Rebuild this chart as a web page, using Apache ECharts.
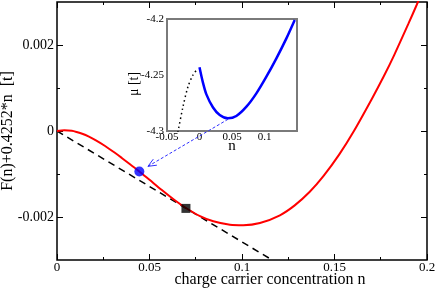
<!DOCTYPE html>
<html><head><meta charset="utf-8">
<script src="https://cdn.jsdelivr.net/npm/echarts@6/dist/echarts.min.js"></script>
<style>html,body{margin:0;padding:0;background:#fff}#c{width:436px;height:293px}</style>
</head><body><div id="c"></div>
<script>
// Main curve: F(n)+0.4252*n  (n, value)
const redN = [0,0.004,0.008,0.0106,0.014,0.017,0.0208,0.026,0.0311,0.035,0.04,0.0445,0.05,0.0567,0.0635,0.0697,0.0773,0.0845,0.0935,0.1007,0.1097,0.1205,0.1285,0.1365,0.144,0.1525,0.1605,0.1701,0.1765,0.1822,0.1899,0.1944,0.2];
const redV = [0,0.000015,0.000004,-0.000023,-0.00007,-0.000126,-0.000211,-0.000348,-0.000501,-0.000626,-0.000792,-0.00094,-0.001135,-0.001373,-0.001604,-0.00179,-0.00198,-0.0021,-0.00218,-0.00219,-0.00214,-0.00196,-0.00173,-0.00142,-0.00105,-0.00055,0,0.00074,0.00126,0.00176,0.00249,0.00293,0.0035];
// Common tangent (dashed)
const tanN = [0, 0.1163];
const tanV = [0, -0.003];
// Marked points
const bluePt = [0.0445, -0.00094];
const blackPt = [0.0697, -0.0018];
// Inset: chemical potential mu(n)
const muN = [0,0.005,0.0106,0.0208,0.0311,0.0438,0.0567,0.0722,0.0875,0.1029,0.1183,0.1337,0.1465];
const muV = [-4.2431,-4.2561,-4.2673,-4.279,-4.2857,-4.2887,-4.2866,-4.2783,-4.2664,-4.2515,-4.2351,-4.2173,-4.2009];
const dotN = [-0.035,-0.033,-0.0254,-0.0177,-0.01,-0.003];
const dotV = [-4.305,-4.3,-4.2783,-4.2604,-4.25,-4.2445];
// Arrow: from inset point to main point
const arrowFrom = [0.044, -4.2895];

const FONT = 'Liberation Serif';
const zip = (a, b) => a.map((x, i) => [x, b[i]]);
const fmt = v => String(+v.toFixed(4));

const chart = echarts.init(document.getElementById('c'), null, {renderer: 'canvas'});

const noLine = {show: false, onZero: false};
const mainTick = {show: true, inside: true, length: 6, lineStyle: {color: '#000', width: 1}};
const mainMinor = {show: true, splitNumber: 2, length: 3, lineStyle: {color: '#000', width: 1}};
const inTickStyle = {color: '#7a7a7a', width: 1};

const option = {
  animation: false,
  grid: [
    {left: 57, right: 9, top: 2, bottom: 33, containLabel: false, outerBoundsMode: 'none', show: true, borderColor: '#000', borderWidth: 1.5, backgroundColor: 'transparent'},
    {left: 167, right: 139, top: 19, bottom: 162, containLabel: false, outerBoundsMode: 'none', show: true, borderColor: '#7a7a7a', borderWidth: 2, backgroundColor: '#fff', z: 5}
  ],
  xAxis: [
    {gridIndex: 0, type: 'value', position: 'bottom', min: 0, max: 0.2, interval: 0.05,
     axisLine: noLine, axisTick: mainTick, minorTick: mainMinor, splitLine: {show: false},
     axisLabel: {fontFamily: FONT, fontSize: 13, color: '#000', margin: 1, formatter: fmt},
     name: 'charge carrier concentration n', nameLocation: 'middle', nameGap: 12, nameMoveOverlap: false,
     nameTextStyle: {fontFamily: FONT, fontSize: 16, color: '#000', padding: [0, 0, 0, 56]}},
    {gridIndex: 0, type: 'value', position: 'top', min: 0, max: 0.2, interval: 0.05,
     axisLine: noLine, axisTick: mainTick, minorTick: mainMinor, splitLine: {show: false}, axisLabel: {show: false}},
    {gridIndex: 1, type: 'value', position: 'bottom', min: -0.05, max: 0.15, interval: 0.05,
     axisLine: noLine, axisTick: {show: true, inside: true, length: 5, lineStyle: inTickStyle},
     minorTick: {show: true, splitNumber: 2, length: 3, lineStyle: inTickStyle}, splitLine: {show: false},
     axisLabel: {fontFamily: FONT, fontSize: 11, color: '#000', margin: 1, showMaxLabel: false, formatter: fmt},
     name: 'n', nameLocation: 'middle', nameGap: 8, nameMoveOverlap: false,
     nameTextStyle: {fontFamily: FONT, fontSize: 15, color: '#000'}},
    {gridIndex: 1, type: 'value', position: 'top', min: -0.05, max: 0.15, interval: 0.05,
     axisLine: noLine, axisTick: {show: true, inside: true, length: 5, lineStyle: inTickStyle},
     minorTick: {show: true, splitNumber: 2, length: 3, lineStyle: inTickStyle}, splitLine: {show: false}, axisLabel: {show: false}}
  ],
  yAxis: [
    {gridIndex: 0, type: 'value', position: 'left', min: -0.003, max: 0.003,
     axisLine: noLine, splitLine: {show: false},
     axisTick: Object.assign({}, mainTick, {customValues: [-0.002, 0, 0.002]}),
     axisLabel: {fontFamily: FONT, fontSize: 14, color: '#000', margin: 3, customValues: [-0.002, 0, 0.002], formatter: v => Math.abs(v) < 1e-9 ? '0' : v.toFixed(3)},
     name: 'F(n)+0.4252*n  [t]', nameLocation: 'middle', nameGap: 41, nameRotate: 90, nameMoveOverlap: false,
     nameTextStyle: {fontFamily: FONT, fontSize: 16, color: '#000'}},
    {gridIndex: 0, type: 'value', position: 'right', min: -0.003, max: 0.003,
     axisLine: noLine, splitLine: {show: false},
     axisTick: Object.assign({}, mainTick, {customValues: [-0.002, 0, 0.002]}),
     axisLabel: {show: false}},
    {gridIndex: 0, type: 'value', position: 'left', min: -0.003, max: 0.003,
     axisLine: noLine, splitLine: {show: false},
     axisTick: Object.assign({}, mainTick, {length: 3, customValues: [-0.001, 0.001]}),
     axisLabel: {show: false}},
    {gridIndex: 0, type: 'value', position: 'right', min: -0.003, max: 0.003,
     axisLine: noLine, splitLine: {show: false},
     axisTick: Object.assign({}, mainTick, {length: 3, customValues: [-0.001, 0.001]}),
     axisLabel: {show: false}},
    {gridIndex: 1, type: 'value', position: 'left', min: -4.3, max: -4.2, interval: 0.05,
     axisLine: noLine, splitLine: {show: false},
     axisTick: {show: true, inside: true, length: 5, lineStyle: inTickStyle},
     minorTick: {show: true, splitNumber: 2, length: 3, lineStyle: inTickStyle},
     axisLabel: {fontFamily: FONT, fontSize: 11, color: '#000', margin: 3, formatter: fmt},
     name: 'μ [t]', nameLocation: 'middle', nameGap: 26, nameRotate: 90, nameMoveOverlap: false,
     nameTextStyle: {fontFamily: FONT, fontSize: 14, color: '#000', padding: [0, 18, 0, 0]}},
    {gridIndex: 1, type: 'value', position: 'right', min: -4.3, max: -4.2, interval: 0.05,
     axisLine: noLine, splitLine: {show: false},
     axisTick: {show: true, inside: true, length: 5, lineStyle: inTickStyle},
     minorTick: {show: true, splitNumber: 2, length: 3, lineStyle: inTickStyle},
     axisLabel: {show: false}}
  ],
  series: [
    {type: 'line', xAxisIndex: 0, yAxisIndex: 0, data: zip(redN, redV), showSymbol: false, smooth: 0.3,
     lineStyle: {color: '#ff0000', width: 2}, z: 2},
    {type: 'line', xAxisIndex: 0, yAxisIndex: 0, data: zip(tanN, tanV), showSymbol: false,
     lineStyle: {color: '#000', width: 1.5, type: [7, 5]}, z: 1},
    {type: 'scatter', xAxisIndex: 0, yAxisIndex: 0, data: [bluePt], symbol: 'circle', symbolSize: 10,
     itemStyle: {color: '#0000ff'}, z: 4},
    {type: 'scatter', xAxisIndex: 0, yAxisIndex: 0, data: [blackPt], symbol: 'rect', symbolSize: 9,
     itemStyle: {color: '#000'}, z: 4},
    {type: 'line', xAxisIndex: 2, yAxisIndex: 4, data: zip(muN, muV), showSymbol: false, smooth: 0.3,
     lineStyle: {color: '#0000ff', width: 2.5}, z: 6},
    {type: 'line', xAxisIndex: 2, yAxisIndex: 4, data: zip(dotN, dotV), showSymbol: false, smooth: 0.3,
     lineStyle: {color: '#000', width: 1.5, type: [1.5, 3]}, z: 6}
  ]
};
chart.setOption(option);

// Dashed arrow from inset point to main point, positioned through the axes' scales
const p1 = chart.convertToPixel({xAxisIndex: 2, yAxisIndex: 4}, arrowFrom);
const p2 = chart.convertToPixel({xAxisIndex: 0, yAxisIndex: 0}, bluePt);
const dx = p2[0] - p1[0], dy = p2[1] - p1[1];
const L = Math.hypot(dx, dy), ux = dx / L, uy = dy / L;
const tip = [p2[0] - ux * 10, p2[1] - uy * 10];
const head = (a) => {
  const c = Math.cos(a), s = Math.sin(a);
  const rx = ux * c - uy * s, ry = ux * s + uy * c;
  return [tip[0] - rx * 9, tip[1] - ry * 9];
};
chart.setOption({
  graphic: [
    {type: 'line', z: 10, shape: {x1: p1[0], y1: p1[1], x2: tip[0], y2: tip[1]},
     style: {stroke: '#3030ff', lineWidth: 1, lineDash: [3, 2]}},
    {type: 'polyline', z: 10, shape: {points: [head(0.4), tip, head(-0.4)]},
     style: {stroke: '#3030ff', lineWidth: 1, fill: null}}
  ]
});
</script>
</body></html>
